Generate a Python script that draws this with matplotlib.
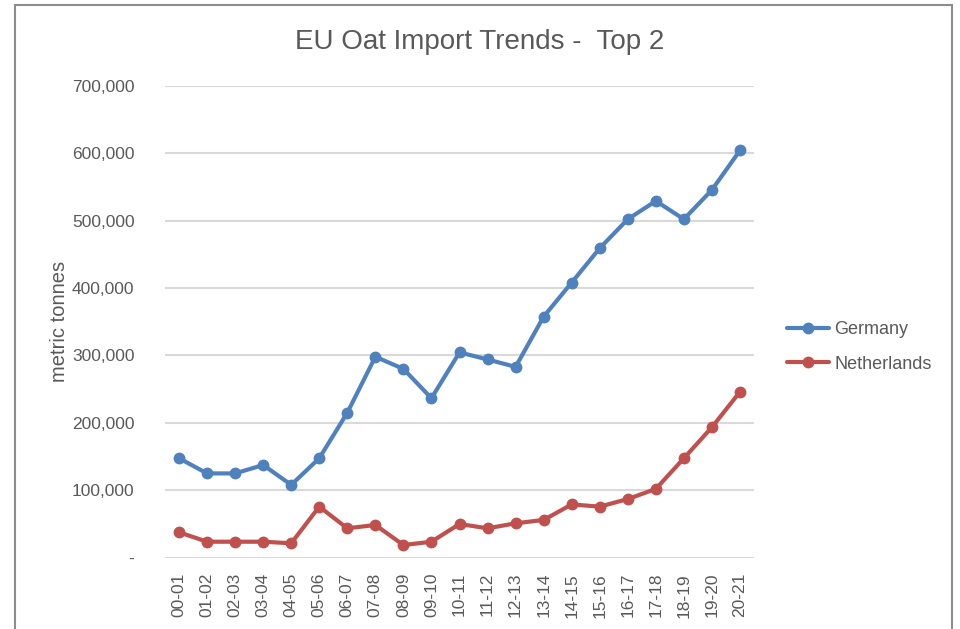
import matplotlib
matplotlib.use("Agg")
import matplotlib.pyplot as plt
from matplotlib.patches import Rectangle
from matplotlib.ticker import FuncFormatter

plt.rcParams['font.family'] = ['Liberation Sans Narrow', 'Liberation Sans', 'DejaVu Sans']

# marketing years
years = ["00-01", "01-02", "02-03", "03-04", "04-05", "05-06", "06-07", "07-08",
         "08-09", "09-10", "10-11", "11-12", "12-13", "13-14", "14-15", "15-16",
         "16-17", "17-18", "18-19", "19-20", "20-21"]

# imports, metric tonnes
germany = [147500, 125000, 125000, 137500, 108000, 147500, 215000, 298000,
           280000, 236500, 304500, 294000, 283000, 357500, 408000, 459000,
           502000, 529000, 502000, 545500, 604000]
netherlands = [37700, 23700, 23700, 23700, 21400, 75700, 43600, 48500,
               18800, 23700, 50000, 43600, 51000, 56000, 79000, 75700,
               87000, 102000, 147500, 193500, 246000]

grey = '#595959'

fig = plt.figure(figsize=(9.6, 6.29), dpi=100)
ax = fig.add_axes([165/960, 1-557.7/629, (754-165)/960, (557.7-85.7)/629])

x = range(len(years))
ax.plot(x, germany, color='#4F81BD', lw=3, marker='o', ms=7.5, label='Germany',
        solid_capstyle='round', zorder=3)
ax.plot(x, netherlands, color='#C0504D', lw=3, marker='o', ms=7.5, label='Netherlands',
        solid_capstyle='round', zorder=3)

ax.set_xlim(-0.5, len(years) - 0.5)
ax.set_ylim(0, 700000)
ax.set_yticks(range(0, 700001, 100000))
ax.yaxis.set_major_formatter(FuncFormatter(lambda v, p: '-' if v == 0 else f'{v:,.0f}'))
ax.set_xticks(list(x))
ax.set_xticklabels(years, rotation=90, va='top', ha='center')

ax.grid(axis='y', color='#D9D9D9', lw=1.5)
ax.set_axisbelow(True)
for s in ax.spines.values():
    s.set_visible(False)
ax.tick_params(length=0, colors=grey, labelsize=12.5)
ax.tick_params(axis='y', pad=22)
ax.tick_params(axis='x', pad=11)

ax.set_ylabel('metric tonnes', color=grey, fontsize=14.5, labelpad=2)

fig.text(0.5, 1-42/629, 'EU Oat Import Trends -  Top 2', ha='center', va='center',
         fontsize=20, color=grey)

leg = fig.legend(loc='center left', bbox_to_anchor=(771/960, 1-347/629), frameon=False,
                 fontsize=13, labelcolor=grey, handlelength=2.3, handletextpad=0.3,
                 labelspacing=0.95)

# chart border
fig.patches.append(Rectangle((15/960, -0.05), (952-15)/960, 1.05-5/629,
                             transform=fig.transFigure, fill=False,
                             edgecolor='#8C8C8C', lw=1.5))

fig.savefig('out.png', dpi=100)
